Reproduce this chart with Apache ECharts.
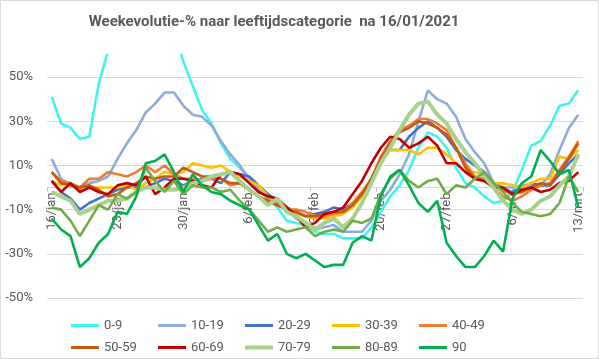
<!DOCTYPE html>
<html><head><meta charset="utf-8">
<script src="https://cdn.jsdelivr.net/npm/echarts@6/dist/echarts.min.js"></script>
<style>html,body{margin:0;padding:0;background:#fff}#c{width:599px;height:359px}</style>
</head><body><div id="c"></div>
<script>
const categories = [
 '16/jan','17/jan','18/jan','19/jan','20/jan','21/jan','22/jan','23/jan','24/jan','25/jan','26/jan','27/jan','28/jan','29/jan','30/jan','31/jan',
 '1/feb','2/feb','3/feb','4/feb','5/feb','6/feb','7/feb','8/feb','9/feb','10/feb','11/feb','12/feb','13/feb','14/feb','15/feb','16/feb','17/feb','18/feb','19/feb','20/feb','21/feb','22/feb','23/feb','24/feb','25/feb','26/feb','27/feb','28/feb',
 '1/mrt','2/mrt','3/mrt','4/mrt','5/mrt','6/mrt','7/mrt','8/mrt','9/mrt','10/mrt','11/mrt','12/mrt','13/mrt'];

const names = ['0-9','10-19','20-29','30-39','40-49','50-59','60-69','70-79','80-89','90'];
const colors = ['#3FF3F0','#8FAADC','#4472C4','#FFC000','#ED7D31','#C55A11','#C00000','#A9D18E','#70AD47','#00B050'];

const age0_9 = [41,29,27,22,23,47,62,72,80,85,88,86,82,72,57,46,35,29,20,13,9,4,0,-5,-9,-15,-16,-17,-20,-21,-21,-23,-23,-23,-18,-11,-4,1,8,18,25,23,18,9,2,0,-4,-7,-6,-2,8,19,21,28,37,38,44];
const age10_19 = [13,4,1,0,2,3,5,13,20,26,34,38,43,43,37,33,32,28,21,15,10,4,-1,-5,-7,-10,-14,-16,-19,-18,-17,-20,-20,-20,-15,-6,-1,6,15,30,44,40,38,32,22,16,11,2,0,0,1,1,1,6,17,27,33];
const age20_29 = [3,-2,-5,-10,-7,-5,-3,-1,0,0,0,2,4,3,1,3,4,4,2,7,6,5,1,-3,-6,-9,-11,-13,-12,-11,-9,-10,-7,-3,4,12,17,17,23,27,30,27,23,17,13,10,7,2,-1,-2,0,2,1,1,6,11,15];
const age30_39 = [3,1,2,-1,0,0,0,0,1,-1,2,4,7,6,7,11,10,9,10,7,5,3,1,-4,-7,-10,-12,-13,-14,-14,-13,-12,-9,-4,3,11,17,17,17,15,18,18,15,11,7,7,6,2,2,1,0,2,4,4,14,13,17];
const age40_49 = [7,3,2,0,4,4,7,6,5,7,10,7,10,6,4,4,3,4,4,1,2,-1,-4,-7,-7,-10,-10,-11,-13,-13,-12,-11,-7,-2,4,14,21,26,28,31,31,29,26,18,11,5,4,0,-4,-6,-4,-1,1,2,8,14,21];
const age50_59 = [7,2,1,0,1,-1,-4,-3,0,2,5,4,5,5,9,7,5,5,4,2,2,-1,-4,-6,-8,-10,-11,-13,-13,-12,-11,-11,-8,-3,4,13,20,25,27,30,29,27,24,18,9,4,3,1,-1,-3,-2,0,2,1,7,13,20];
const age60_69 = [3,-2,2,-2,0,-2,-3,1,2,1,5,-3,0,4,4,3,1,0,6,7,6,2,-2,-4,-5,-9,-13,-18,-16,-12,-11,-9,-3,3,11,18,23,22,18,20,23,19,11,11,7,4,3,0,0,-3,-1,0,-2,-1,2,3,7];
const age70_79 = [-2,-4,-6,-12,-10,-8,-6,-6,-5,-2,0,0,-1,-1,0,2,3,5,6,7,3,-1,-4,-8,-5,-11,-13,-16,-19,-16,-14,-18,-14,-7,2,11,18,26,33,38,39,33,29,22,16,11,5,0,-6,-10,-12,-10,-6,-4,1,5,15];
const age80_89 = [-9,-10,-15,-22,-15,-8,-10,-3,-5,-2,9,3,-2,3,-3,1,0,0,-2,-1,-6,-10,-15,-20,-18,-20,-19,-18,-22,-20,-19,-20,-15,-16,-14,-3,4,8,3,0,3,4,-3,1,0,4,7,2,-2,-7,-11,-12,-13,-12,-7,5,-2];
const age90 = [-14,-19,-22,-36,-32,-25,-21,-11,-12,-4,11,12,15,7,-2,6,1,-2,-3,-6,-8,-10,-17,-24,-21,-30,-32,-30,-33,-36,-35,-35,-25,-22,-24,-4,5,8,1,-7,-11,-6,-25,-31,-36,-36,-31,-24,-29,-5,2,5,17,12,6,8,-9];

const seriesData = [age0_9,age10_19,age20_29,age30_39,age40_49,age50_59,age60_69,age70_79,age80_89,age90];
const yMin = -50, yMax = 60, yStep = 20;

const FONT = 'Roboto, sans-serif';
const TXT = '#595959';

const series = names.map((n, i) => ({
  name: n, type: 'line', data: seriesData[i], symbol: 'none', smooth: false,
  lineStyle: { color: colors[i], width: n === '70-79' ? 4 : 2.6 },
  itemStyle: { color: colors[i] }, clip: true, animation: false
}));

const legends = names.map((n, i) => ({
  data: [{ name: n, icon: 'rect' }],
  left: 71 + 87 * (i % 5), top: i < 5 ? 319 : 341,
  padding: 0, itemWidth: 28, itemHeight: n === '70-79' ? 4 : 3,
  textStyle: { fontFamily: FONT, fontSize: 13, color: TXT },
  selectedMode: false
}));

const chart = echarts.init(document.getElementById('c'), null, { renderer: 'canvas' });
chart.setOption({
  animation: false,
  backgroundColor: '#fff',
  title: {
    text: 'Weekevolutie-% naar leeftijdscategorie  na 16/01/2021',
    left: 269, top: 10, textAlign: 'center',
    textStyle: { fontFamily: FONT, fontWeight: 'bold', fontSize: 15, color: TXT }
  },
  graphic: [{ type: 'rect', shape: { x: 0.5, y: 0.5, width: 598, height: 358 },
    style: { fill: 'none', stroke: '#D9D9D9', lineWidth: 1 }, silent: true }],
  legend: legends,
  grid: { left: 47, right: 16, top: 55, bottom: 61, containLabel: false },
  xAxis: {
    type: 'category', data: categories, boundaryGap: true, offset: -110.5,
    axisLine: { onZero: false, lineStyle: { color: '#D9D9D9', width: 1 } },
    axisTick: { show: true, interval: 6, length: 4, lineStyle: { color: '#BFBFBF' } },
    axisLabel: { interval: 6, rotate: 90, margin: 5, fontFamily: FONT, fontSize: 13, color: TXT }
  },
  yAxis: {
    type: 'value', min: yMin, max: yMax, interval: yStep,
    axisLine: { show: false }, axisTick: { show: false },
    splitLine: { show: true, showMaxLine: false, lineStyle: { color: '#D9D9D9', width: 1 } },
    axisLabel: { formatter: '{value}%', showMaxLabel: false, margin: 14, fontFamily: FONT, fontSize: 13, color: TXT }
  },
  series: series
});
</script></body></html>
